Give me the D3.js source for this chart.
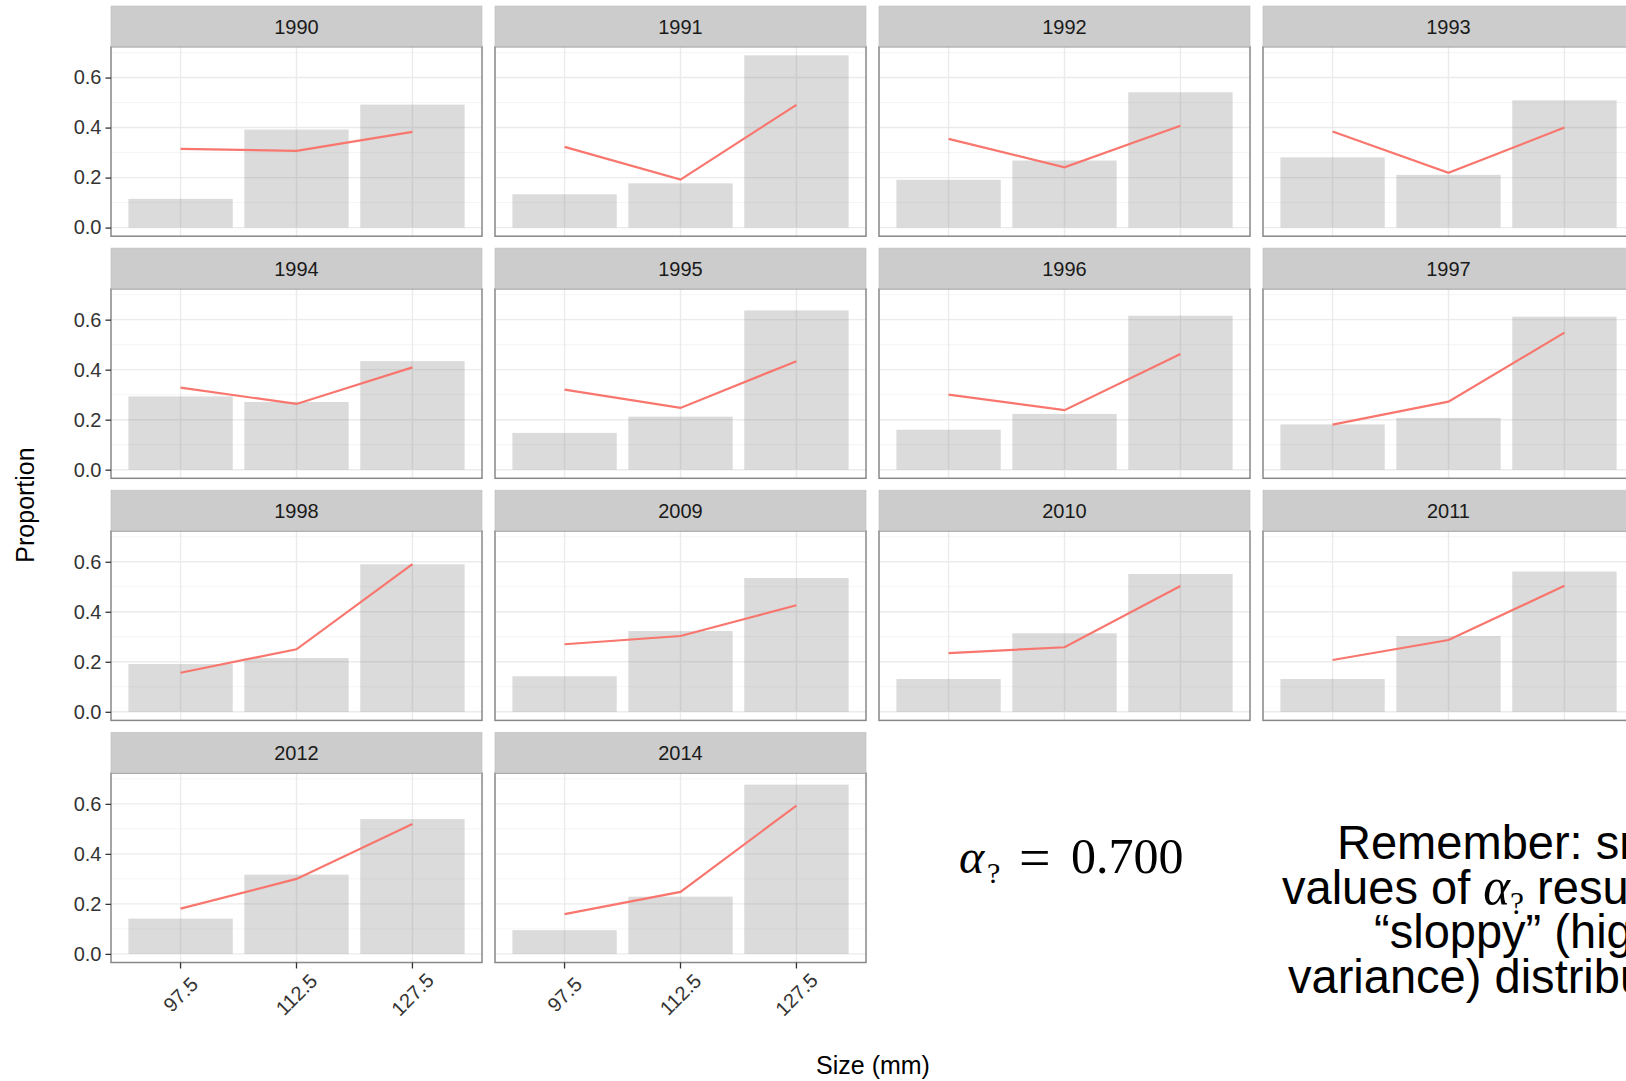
<!DOCTYPE html>
<html>
<head>
<meta charset="utf-8">
<script src="https://cdn.jsdelivr.net/npm/d3@7"></script>
<style>
  body { margin: 0; background: #fff; }
  svg { display: block; }
</style>
</head>
<body>
<svg id="chart"></svg>
<script>
// facet labels, size classes (mm), observed proportions (bars) and fitted proportions (line)
const years = ['1990', '1991', '1992', '1993', '1994', '1995', '1996', '1997',
    '1998', '2009', '2010', '2011', '2012', '2014'];
const sizes = ['97.5', '112.5', '127.5'];
const observed = [
    [0.115, 0.392, 0.492],
    [0.133, 0.177, 0.689],
    [0.191, 0.268, 0.541],
    [0.281, 0.211, 0.509],
    [0.293, 0.271, 0.434],
    [0.147, 0.212, 0.637],
    [0.160, 0.223, 0.616],
    [0.181, 0.207, 0.612],
    [0.191, 0.215, 0.590],
    [0.142, 0.323, 0.535],
    [0.131, 0.314, 0.551],
    [0.131, 0.303, 0.561],
    [0.141, 0.317, 0.539],
    [0.095, 0.229, 0.677]
];
const fitted = [
    [0.315, 0.307, 0.383],
    [0.323, 0.192, 0.491],
    [0.355, 0.241, 0.407],
    [0.384, 0.219, 0.400],
    [0.328, 0.263, 0.409],
    [0.320, 0.247, 0.434],
    [0.300, 0.238, 0.463],
    [0.180, 0.272, 0.548],
    [0.156, 0.250, 0.591],
    [0.270, 0.303, 0.426],
    [0.235, 0.258, 0.503],
    [0.207, 0.287, 0.504],
    [0.181, 0.300, 0.519],
    [0.159, 0.248, 0.593]
];
const yTicks = [0, 0.2, 0.4, 0.6];
const yMinor = [0.1, 0.3, 0.5, 0.7];
const ncol = 4;

const width = 1626;
const height = 1081;
const svg = d3.select('#chart').attr('width', width).attr('height', height);

const gridLeft = 111, gridTop = 6;
const panelW = 371, panelH = 189.5, stripH = 40.7;
const colStep = 384, rowStep = 242.1;
const nrow = Math.ceil(years.length / ncol);

const font = "'Liberation Sans', Arial, Helvetica, sans-serif";

// y domain with ggplot-style 5% expansion
const yMax = d3.max(observed.concat(fitted), d => d3.max(d));
const yScale = d3.scaleLinear()
    .domain([-0.05 * yMax, yMax * 1.05])
    .range([panelH, 0]);

const xScale = d3.scaleBand()
    .domain(sizes)
    .range([0, panelW])
    .paddingInner(0.1)
    .paddingOuter(0.15);

const line = d3.line()
    .x((d, i) => xScale(sizes[i]) + xScale.bandwidth() / 2)
    .y(d => yScale(d));

years.forEach((year, k) => {
    const r = Math.floor(k / ncol);
    const c = k % ncol;
    const px = gridLeft + c * colStep;
    const sy = gridTop + r * rowStep;
    const py = sy + stripH;

    const g = svg.append('g').attr('transform', `translate(${px}, ${py})`);

    // grid
    g.selectAll('.minor').data(yMinor).enter().append('line')
        .attr('x1', 0).attr('x2', panelW)
        .attr('y1', d => yScale(d)).attr('y2', d => yScale(d))
        .attr('stroke', '#F3F3F3').attr('stroke-width', 0.8);
    g.selectAll('.major').data(yTicks).enter().append('line')
        .attr('x1', 0).attr('x2', panelW)
        .attr('y1', d => yScale(d)).attr('y2', d => yScale(d))
        .attr('stroke', '#EBEBEB').attr('stroke-width', 1.4);
    g.selectAll('.vgrid').data(sizes).enter().append('line')
        .attr('x1', d => xScale(d) + xScale.bandwidth() / 2)
        .attr('x2', d => xScale(d) + xScale.bandwidth() / 2)
        .attr('y1', 0).attr('y2', panelH)
        .attr('stroke', '#EBEBEB').attr('stroke-width', 1.4);

    // bars
    g.selectAll('.bar').data(observed[k]).enter().append('rect')
        .attr('x', (d, i) => xScale(sizes[i]))
        .attr('width', xScale.bandwidth())
        .attr('y', d => yScale(d))
        .attr('height', d => yScale(0) - yScale(d))
        .attr('fill', '#7F7F7F')
        .attr('fill-opacity', 0.28);

    // fitted line
    g.append('path')
        .datum(fitted[k])
        .attr('d', line)
        .attr('fill', 'none')
        .attr('stroke', '#F8766D')
        .attr('stroke-width', 2.2);

    // panel border
    g.append('rect')
        .attr('width', panelW).attr('height', panelH)
        .attr('fill', 'none')
        .attr('stroke', '#888').attr('stroke-width', 1.5);

    // strip
    svg.append('rect')
        .attr('x', px).attr('y', sy)
        .attr('width', panelW).attr('height', stripH)
        .attr('fill', '#CCCCCC')
        .attr('stroke', '#BDBDBD').attr('stroke-width', 0.6);
    svg.append('text')
        .attr('x', px + panelW / 2).attr('y', sy + stripH / 2)
        .attr('dy', '0.36em')
        .attr('text-anchor', 'middle')
        .attr('font-family', font).attr('font-size', 20)
        .attr('fill', '#1A1A1A')
        .text(year);

    // y axis on first column
    if (c === 0) {
        const ya = g.append('g')
            .call(d3.axisLeft(yScale).tickValues(yTicks)
                .tickFormat(d3.format('.1f')).tickSize(5.5).tickPadding(4));
        ya.select('.domain').remove();
        ya.selectAll('line').attr('stroke', '#333').attr('stroke-width', 1.3);
        ya.selectAll('text').attr('font-family', font).attr('font-size', 20).attr('fill', '#333');
    }

    // x axis under the last row
    if (r === nrow - 1) {
        const xa = g.append('g')
            .attr('transform', `translate(0, ${panelH})`)
            .call(d3.axisBottom(xScale).tickSize(6).tickPadding(0));
        xa.select('.domain').remove();
        xa.selectAll('line').attr('stroke', '#333').attr('stroke-width', 1.3);
        xa.selectAll('text')
            .attr('font-family', font).attr('font-size', 20).attr('fill', '#333')
            .attr('y', 0).attr('dy', '0.35em')
            .attr('text-anchor', 'middle')
            .attr('transform', 'translate(0, 32) rotate(-45)');
    }
});

// axis titles
svg.append('text')
    .attr('x', 873).attr('y', 1074)
    .attr('text-anchor', 'middle')
    .attr('font-family', font).attr('font-size', 25)
    .attr('fill', '#000')
    .text('Size (mm)');

svg.append('text')
    .attr('transform', 'translate(34, 505) rotate(-90)')
    .attr('text-anchor', 'middle')
    .attr('font-family', font).attr('font-size', 25)
    .attr('fill', '#000')
    .text('Proportion');

// alpha annotation
const serif = "'Liberation Serif', 'DejaVu Serif', serif";
const alpha = svg.append('text')
    .attr('font-family', serif).attr('font-size', 48).attr('fill', '#000');
alpha.append('tspan').attr('x', 959).attr('y', 873).attr('font-style', 'italic').text('α');
alpha.append('tspan').attr('x', 987).attr('y', 883).attr('font-size', 30).text('?');
alpha.append('tspan').attr('x', 1019).attr('y', 877).attr('font-size', 56).text('=');
alpha.append('tspan').attr('x', 1071).attr('y', 873).attr('font-size', 50).text('0.700');

// note on the right, partly outside the frame
const noteLines = [
    { x: 1337, y: 859, parts: [['Remember: smaller']] },
    { x: 1282, y: 904, parts: [['values of '], ['α', 'alpha'], ['?', 'sub'], [' result in', 'after']] },
    { x: 1374, y: 948, parts: [['“sloppy” (higher']] },
    { x: 1288, y: 993, parts: [['variance) distributions']] }
];
const note = svg.append('g')
    .attr('font-family', font).attr('font-size', 48).attr('fill', '#000');
noteLines.forEach(l => {
    const t = note.append('text')
        .attr('transform', `translate(${l.x}, ${l.y}) scale(0.98, 1)`);
    l.parts.forEach(([s, kind]) => {
        const ts = t.append('tspan').text(s);
        if (kind === 'alpha') ts.attr('font-family', serif).attr('font-style', 'italic').attr('font-size', 52);
        if (kind === 'sub') ts.attr('font-family', serif).attr('font-size', 32).attr('dy', 10);
        if (kind === 'after') ts.attr('dy', -10);
    });
});
</script>
</body>
</html>
